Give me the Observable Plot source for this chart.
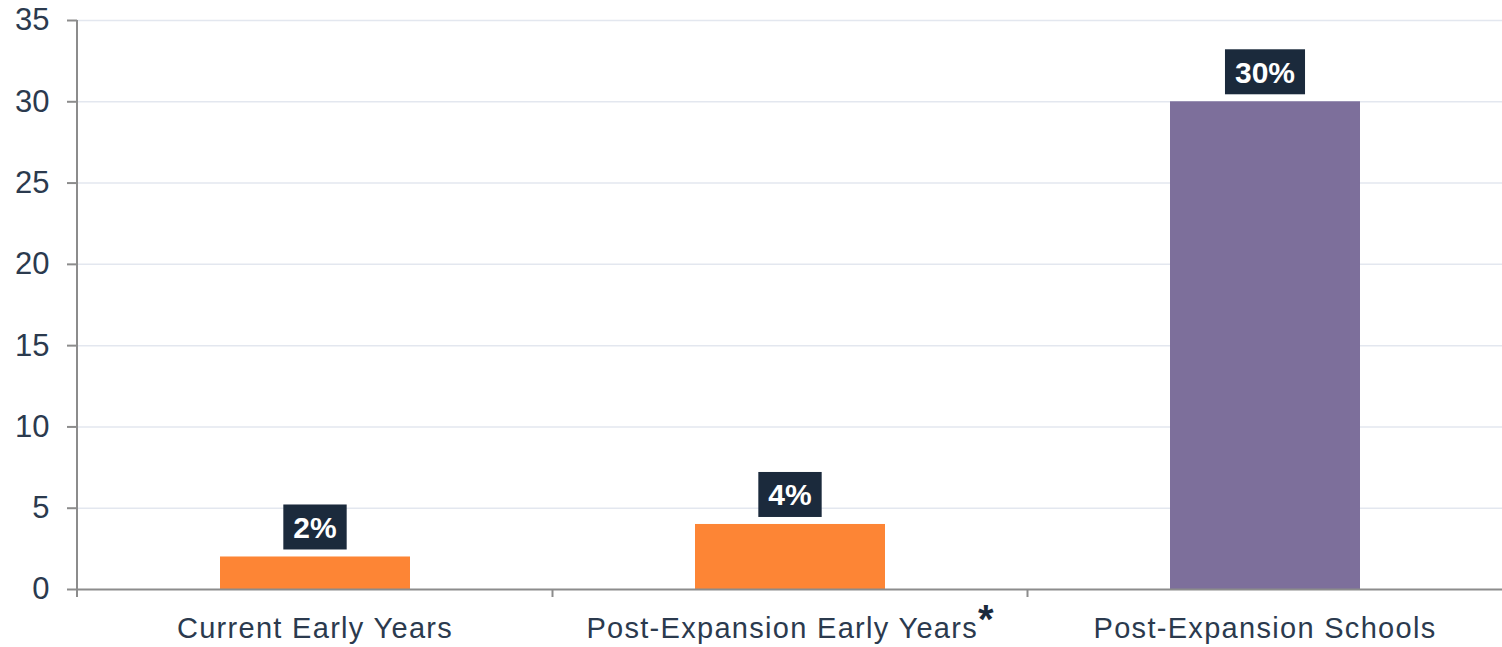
<!DOCTYPE html>
<html><head><meta charset="utf-8">
<script src="https://cdn.jsdelivr.net/npm/d3@7"></script>
<script src="https://cdn.jsdelivr.net/npm/@observablehq/plot@0.6"></script>
<style>html,body{margin:0;padding:0;background:#fff}#chart svg{display:block}</style>
</head><body><div id="chart"></div>
<script>
const categories = ["Current Early Years", "Post-Expansion Early Years", "Post-Expansion Schools"];
const footnotes = ["", "*", ""];
const values = [2, 4, 30];
const labels = ["2%", "4%", "30%"];
const barColors = ["#fd8535", "#fd8535", "#7d6f9b"];
const yTicks = [0, 5, 10, 15, 20, 25, 30, 35];

const data = categories.map((c, i) => ({category: c, value: values[i], label: labels[i], color: barColors[i], note: footnotes[i]}));

const FONT = "'Liberation Sans', Arial, Helvetica, sans-serif";
const TEXT = "#2b3a4e";
const AXIS = "#8c8c8c";
const ctx = document.createElement("canvas").getContext("2d");

function decorations(index, scales, vals, dims) {
  const x = scales.x, y = scales.y;
  const bw = typeof x.bandwidth === "function" ? x.bandwidth() : x.bandwidth;
  const g = d3.create("svg:g");
  const y0 = y(0);
  const left = dims.marginLeft;
  // y axis line
  g.append("line").attr("x1", left).attr("x2", left).attr("y1", y(d3.max(yTicks))).attr("y2", y0 + 8)
    .attr("stroke", AXIS).attr("stroke-width", 2);
  // category separators
  for (let i = 0; i < categories.length - 1; i++) {
    const b = (x(categories[i]) + bw + x(categories[i + 1])) / 2;
    g.append("line").attr("x1", b).attr("x2", b).attr("y1", y0).attr("y2", y0 + 8)
      .attr("stroke", AXIS).attr("stroke-width", 2);
  }
  // category labels
  data.forEach(d => {
    const cx = x(d.category) + bw / 2;
    const t = g.append("text").attr("x", cx).attr("y", y0 + 49).attr("text-anchor", "middle")
      .attr("font-family", FONT).attr("font-size", 29).attr("letter-spacing", 1.3).attr("fill", TEXT);
    t.append("tspan").text(d.category);
    if (d.note) t.append("tspan").attr("dy", -5).attr("font-size", 40).attr("font-weight", "bold")
      .attr("letter-spacing", 0).attr("fill", "#1b2a3c").text(d.note);
  });
  // value labels with dark boxes
  ctx.font = "bold 30px " + FONT;
  data.forEach(d => {
    const cx = x(d.category) + bw / 2;
    const w = ctx.measureText(d.label).width + 20;
    const h = 45;
    const bottom = y(d.value) - 7;
    g.append("rect").attr("x", cx - w / 2).attr("y", bottom - h).attr("width", w).attr("height", h).attr("fill", "#1b2a3c");
    g.append("text").attr("x", cx).attr("y", bottom - h / 2).attr("dy", "0.36em").attr("text-anchor", "middle")
      .attr("font-family", FONT).attr("font-weight", "bold").attr("font-size", 30).attr("fill", "#fff").text(d.label);
  });
  return g.node();
}

const chart = Plot.plot({
  width: 1502,
  height: 647,
  marginLeft: 77,
  marginRight: 0,
  marginTop: 20,
  marginBottom: 58,
  style: {fontFamily: FONT, background: "#fff", overflow: "visible"},
  x: {domain: categories, paddingInner: 0.6, paddingOuter: 0.3, axis: null},
  y: {domain: [0, 35], axis: null},
  color: {type: "identity"},
  marks: [
    Plot.ruleY(yTicks.filter(t => t > 0), {stroke: "#e3e7ef", strokeWidth: 1.5}),
    Plot.barY(data, {x: "category", y: "value", fill: "color"}),
    Plot.ruleY([0], {stroke: AXIS, strokeWidth: 2}),
    Plot.axisY({ticks: yTicks, tickSize: 10, tickPadding: 18, fontSize: 31, stroke: AXIS, strokeWidth: 2, fill: TEXT, label: null, tickFormat: d => String(d)}),
    decorations
  ]
});
document.getElementById("chart").appendChild(chart);
</script>
</body></html>
